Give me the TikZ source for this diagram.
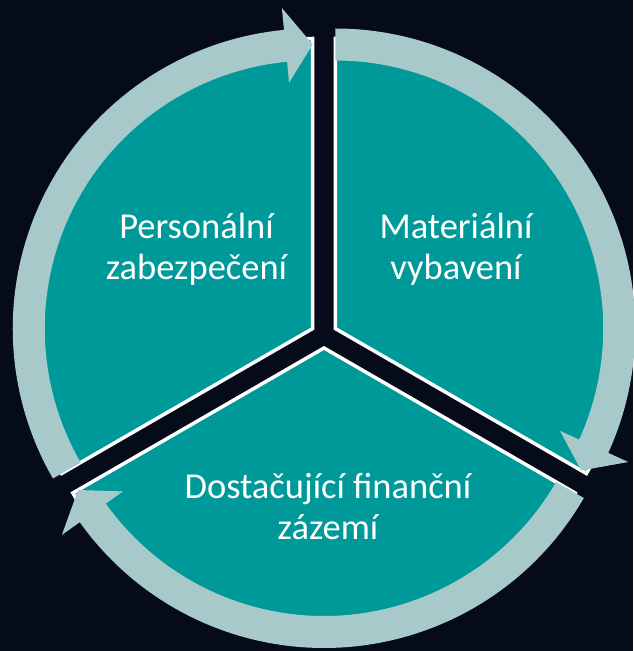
\documentclass[tikz,border=0pt]{standalone}
\usepackage{fontspec}
\setmainfont{Carlito}
\definecolor{bg}{RGB}{5,11,24}
\definecolor{seg}{RGB}{0,153,153}
\definecolor{ring}{RGB}{168,201,201}
\begin{document}
\begin{tikzpicture}[x=1pt,y=1pt,
  segment/.style={fill=seg, draw=white, line width=3.5pt, line join=miter},
  cyclearrow/.style={fill=ring},
  seglabel/.style={text=white, font=\fontsize{36.5}{41}\selectfont, align=center, anchor=base, inner sep=0pt}]
\fill[bg] (0,0) rectangle (633,651);
\useasboundingbox (0,0) rectangle (633,651);
\coordinate (Lc) at (312.74,322.5);
\coordinate (Rc) at (335.26,322.5);
\coordinate (Bc) at (324,303);
% segments
\path[segment] (Rc) -- ++(90:290) arc[start angle=90,end angle=-30,radius=290] -- cycle;
\path[segment] (Bc) -- ++(-30:290) arc[start angle=-30,end angle=-150,radius=290] -- cycle;
\path[segment] (Lc) -- ++(210:290) arc[start angle=210,end angle=90,radius=290] -- cycle;
% circular arrows
\path[cyclearrow] ([shift={(Rc)}]90:300) arc[start angle=90,end angle=-24.5,radius=300]
  -- ([shift={(Rc)}]-24.5:322) -- ([shift={(Rc)}]-30:284) -- ([shift={(Rc)}]-24.5:247)
  -- ([shift={(Rc)}]-24.5:268) arc[start angle=-24.5,end angle=90,radius=268] -- cycle;
\path[cyclearrow] ([shift={(Bc)}]330:300) arc[start angle=330,end angle=215.5,radius=300]
  -- ([shift={(Bc)}]215.5:322) -- ([shift={(Bc)}]210:284) -- ([shift={(Bc)}]215.5:247)
  -- ([shift={(Bc)}]215.5:268) arc[start angle=215.5,end angle=330,radius=268] -- cycle;
\path[cyclearrow] ([shift={(Lc)}]210:300) arc[start angle=210,end angle=95.5,radius=300]
  -- ([shift={(Lc)}]95.5:322) -- ([shift={(Lc)}]90:284) -- ([shift={(Lc)}]95.5:247)
  -- ([shift={(Lc)}]95.5:268) arc[start angle=95.5,end angle=210,radius=268] -- cycle;
% labels (anchor = baseline of the last line)
\node[seglabel] (personal) at (196.5,371) {Personální\\zabezpečení};
\node[seglabel] (material) at (456,371) {Materiální\\vybavení};
\node[seglabel] (finance) at (328,111) {Dostačující finanční\\zázemí};
\end{tikzpicture}
\end{document}
